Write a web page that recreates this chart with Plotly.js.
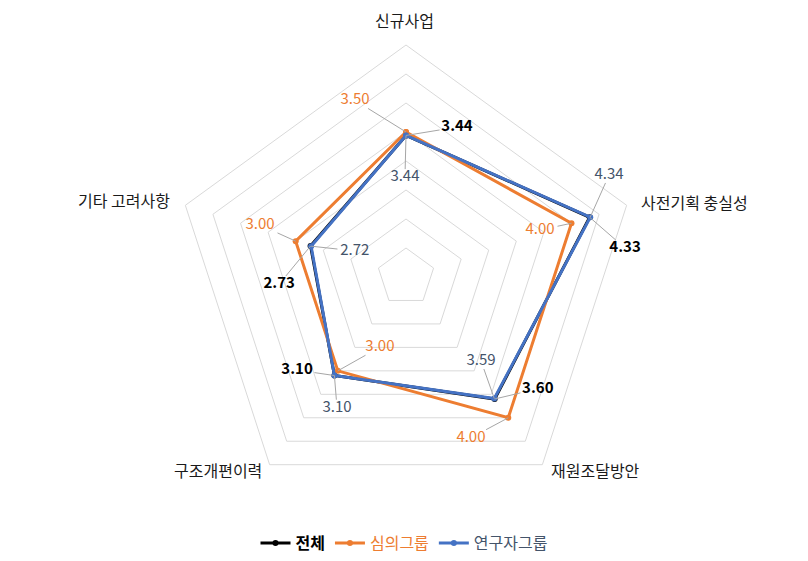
<!DOCTYPE html>
<html>
<head>
<meta charset="utf-8">
<script src="https://cdn.plot.ly/plotly-3.0.1.min.js"></script>
<style>
  html, body { margin: 0; padding: 0; background: #fff; }
  #chart { width: 808px; height: 561px; }
</style>
</head>
<body>
<div id="chart"></div>
<script>
// 항목 및 점수
const categories = ["신규사업", "사전기획 충실성", "재원조달방안", "구조개편이력", "기타 고려사항"];
const totalVals = [3.44, 4.33, 3.60, 3.10, 2.73];
const reviewVals = [3.50, 4.00, 4.00, 3.00, 3.00];
const researcherVals = [3.44, 4.34, 3.59, 3.10, 2.72];

// 항목 이름 위치 (paper 좌표)
const categoryLabelPos = [[0.5012, 0.9643], [0.8601, 0.6399], [0.7376, 0.1622], [0.2698, 0.1622], [0.1535, 0.6435]];
// 데이터 레이블 위치 (r, 각도) - 보조 극좌표
const totalLabelPos = [[3.73, 18.8], [4.81, 82.5], [3.98, 130.3], [3.47, 229.5], [3.19, 266.8]];
const reviewLabelPos = [[4.17, 343.9], [3.45, 70.7], [3.99, 158], [2.29, 200.4], [3.67, 289.6]];
const researcherLabelPos = [[2.72, 359.4], [4.92, 63.3], [2.94, 138.2], [3.55, 207.8], [1.99, 297]];

const FONT = "'Noto Sans CJK KR', 'Malgun Gothic', sans-serif";

const series = [
  { name: "<b>전체</b>", vals: totalVals, color: "#000000", labelColor: "#000000", weight: "bold", pos: totalLabelPos },
  { name: '<span style="color:#ED7D31">심의그룹</span>', vals: reviewVals, color: "#ED7D31", labelColor: "#ED7D31", weight: "normal", pos: reviewLabelPos },
  { name: '<span style="color:#44546A">연구자그룹</span>', vals: researcherVals, color: "#4472C4", labelColor: "#44546A", weight: "normal", pos: researcherLabelPos }
];

function toXY(r, th) {
  const d = r - 1, a = th * Math.PI / 180;
  return [d * Math.sin(a), d * Math.cos(a)];
}
function toPolar(x, y) {
  let th = Math.atan2(x, y) * 180 / Math.PI;
  if (th < 0) th += 360;
  return [1 + Math.sqrt(x * x + y * y), th];
}

const traces = [];
const leaders = [];
const labels = [];

series.forEach(s => {
  traces.push({
    type: "scatterpolar",
    subplot: "polar",
    r: s.vals.concat([s.vals[0]]),
    theta: categories.concat([categories[0]]),
    mode: "lines+markers",
    name: s.name,
    line: { color: s.color, width: 3 },
    marker: { color: s.color, size: 6 },
    hoverinfo: "skip"
  });

  s.vals.forEach((v, i) => {
    const P = toXY(v, i * 72);
    const L = toXY(s.pos[i][0], s.pos[i][1]);
    const vx = P[0] - L[0], vy = P[1] - L[1];
    const hw = 0.30, hh = 0.14;
    const t = Math.min(vx !== 0 ? hw / Math.abs(vx) : Infinity, vy !== 0 ? hh / Math.abs(vy) : Infinity, 1);
    const E = toPolar(L[0] + vx * t, L[1] + vy * t);
    leaders.push({
      type: "scatterpolar",
      subplot: "polar2",
      r: [v, E[0]],
      theta: [i * 72, E[1]],
      mode: "lines",
      line: { color: "#A6A6A6", width: 1 },
      showlegend: false,
      hoverinfo: "skip"
    });
  });

  labels.push({
    type: "scatterpolar",
    subplot: "polar2",
    r: s.pos.map(p => p[0]),
    theta: s.pos.map(p => p[1]),
    mode: "text",
    text: s.vals.map(v => v.toFixed(2)),
    textposition: "middle center",
    textfont: { family: FONT, size: 15, color: s.labelColor, weight: s.weight },
    showlegend: false,
    hoverinfo: "skip"
  });
});

// 항목 이름
const annotations = categories.map((c, i) => ({
  text: c,
  xref: "paper", yref: "paper",
  x: categoryLabelPos[i][0], y: categoryLabelPos[i][1],
  xanchor: "center", yanchor: "middle",
  showarrow: false,
  font: { family: FONT, size: 16, color: "#1a1a1a" }
}));

const dom = { x: [174 / 808, 638 / 808], y: [1 - 509 / 561, 1 - 45 / 561] };

const layout = {
  width: 808,
  height: 561,
  margin: { l: 0, r: 0, t: 0, b: 0 },
  paper_bgcolor: "#fff",
  font: { family: FONT, size: 15, color: "#333" },
  showlegend: true,
  legend: {
    orientation: "h",
    x: 0.5, xanchor: "center",
    y: 0.032, yanchor: "middle",
    font: { family: FONT, size: 16, color: "#000" },
    itemwidth: 30
  },
  annotations: annotations,
  polar: {
    domain: dom,
    bgcolor: "#fff",
    gridshape: "linear",
    angularaxis: {
      type: "category",
      rotation: 90,
      direction: "clockwise",
      showgrid: false,
      showline: true,
      linecolor: "#D9D9D9",
      linewidth: 1,
      ticks: "",
      showticklabels: false
    },
    radialaxis: {
      range: [1, 5],
      tick0: 1,
      dtick: 0.5,
      showticklabels: false,
      ticks: "",
      showline: false,
      gridcolor: "#D9D9D9",
      gridwidth: 1
    }
  },
  polar2: {
    domain: dom,
    bgcolor: "rgba(0,0,0,0)",
    angularaxis: { type: "linear", rotation: 90, direction: "clockwise", visible: false },
    radialaxis: { range: [1, 5], visible: false }
  }
};

Plotly.newPlot("chart", traces.concat(leaders, labels), layout, { displayModeBar: false, staticPlot: true });
</script>
</body>
</html>
